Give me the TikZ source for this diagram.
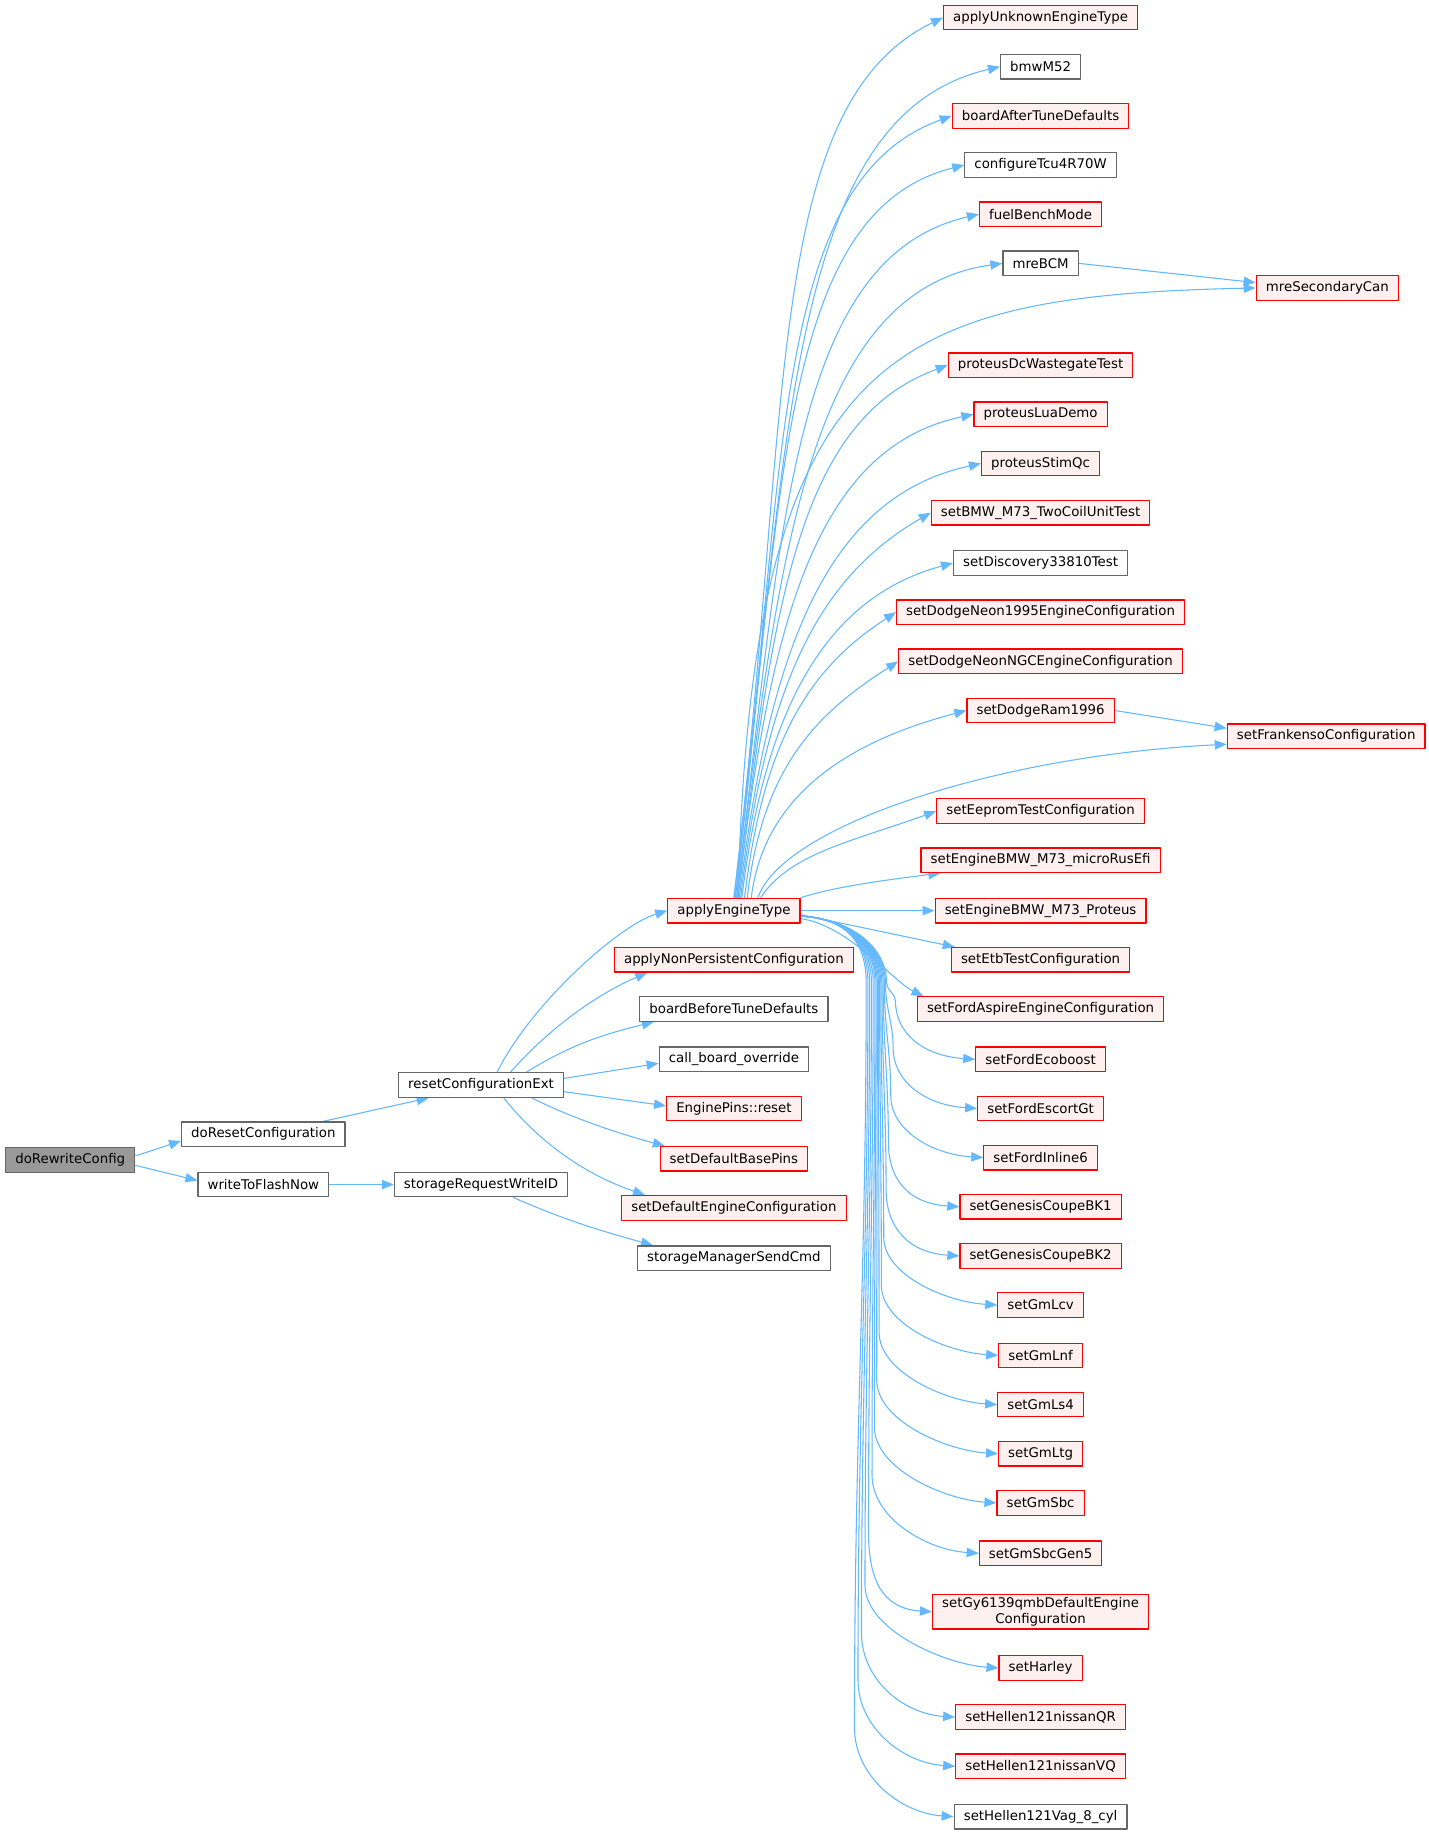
\documentclass[tikz,border=0pt]{standalone}
\usepackage{fontspec}
\setmainfont{DejaVu Sans}
\usetikzlibrary{arrows.meta,calc}
\definecolor{edgeblue}{HTML}{63B8FF}
\definecolor{redfill}{HTML}{FFF0F0}
\definecolor{rootfill}{HTML}{999999}
\definecolor{boxgray}{HTML}{666666}
\pgfdeclarelayer{edges}
\pgfsetlayers{edges,main}
\begin{document}
\begin{tikzpicture}[x=0.878pt, y=-0.878pt, font=\fontsize{10}{12}\selectfont, line join=round,
	fn/.style={draw=boxgray, fill=white, line width=0.9pt, minimum height=18.4pt, inner xsep=7.2pt, inner ysep=2pt},
	fnred/.style={fn, draw=red, fill=redfill},
	fnroot/.style={fn, fill=rootfill},
	call/.style={draw=edgeblue, line width=0.8pt, -{Triangle[length=9pt,width=7pt]}}]
	\useasboundingbox (0,0) rectangle (1220,1566);
	% callers
	\node[fnroot] (rw) at (60,991) {doRewriteConfig};
	\node[fn] (dr) at (225,969) {doResetConfiguration};
	\node[fn] (wf) at (225,1012) {writeToFlashNow};
	\node[fn] (rce) at (411,927) {resetConfigurationExt};
	\node[fn] (srw) at (411,1012) {storageRequestWriteID};
	% middle column
	\node[fnred] (aet) at (627,778) {applyEngineType};
	\node[fnred] (anpc) at (627,820) {applyNonPersistentConfiguration};
	\node[fn] (bbtd) at (627,862) {boardBeforeTuneDefaults};
	\node[fn] (cbo) at (627,905) {call\_board\_override};
	\node[fnred] (epr) at (627,947) {EnginePins::reset};
	\node[fnred] (sdbp) at (627,990) {setDefaultBasePins};
	\node[fnred] (sdec) at (627,1032) {setDefaultEngineConfiguration};
	\node[fn] (smsc) at (627,1075) {storageManagerSendCmd};
	% right column
	\foreach \n/\y/\txt/\st in {
		auet/15/applyUnknownEngineType/fnred, bmw/57/bmwM52/fn,
		batd/99/boardAfterTuneDefaults/fnred, tcu/141/configureTcu4R70W/fn,
		fbm/183/fuelBenchMode/fnred, mbcm/225/mreBCM/fn,
		pdw/312/proteusDcWastegateTest/fnred, plua/354/proteusLuaDemo/fnred,
		pstim/396/proteusStimQc/fnred, bmwtc/438/setBMW\_M73\_TwoCoilUnitTest/fnred,
		disc/481/setDiscovery33810Test/fn, dn95/523/setDodgeNeon1995EngineConfiguration/fnred,
		dngc/565/setDodgeNeonNGCEngineConfiguration/fnred, dram/607/setDodgeRam1996/fnred,
		eep/693/setEepromTestConfiguration/fnred, micro/735/setEngineBMW\_M73\_microRusEfi/fnred,
		bmwp/778/setEngineBMW\_M73\_Proteus/fnred, etb/820/setEtbTestConfiguration/fnred,
		fa/862/setFordAspireEngineConfiguration/fnred, fe/905/setFordEcoboost/fnred,
		feg/947/setFordEscortGt/fnred, fi6/989/setFordInline6/fnred,
		g1/1031/setGenesisCoupeBK1/fnred, g2/1073/setGenesisCoupeBK2/fnred,
		lcv/1115/setGmLcv/fnred, lnf/1158/setGmLnf/fnred,
		ls4/1200/setGmLs4/fnred, ltg/1242/setGmLtg/fnred,
		sbc/1284/setGmSbc/fnred, sbc5/1327/setGmSbcGen5/fnred,
		harley/1425/setHarley/fnred, hqr/1467/setHellen121nissanQR/fnred,
		hvq/1509/setHellen121nissanVQ/fnred, vag/1552/setHellen121Vag\_8\_cyl/fn}
		\node[\st] (\n) at (889,\y) {\txt};
	\node[fnred, align=center] (gy) at (889,1377) {setGy6139qmbDefaultEngine\\Configuration};
	% far column
	\node[fnred] (msc) at (1134,246) {mreSecondaryCan};
	\node[fnred] (sfc) at (1133,629) {setFrankensoConfiguration};
	\coordinate (fan) at (750,840);
	
	\begin{pgfonlayer}{edges}
	\fill[white] (0,0) rectangle (1220,1566);
	% calls from the left part
	\draw[call] ([yshift=3pt]rw.east) -- ([yshift=-5pt]dr.west);
	\draw[call] ([yshift=-4pt]rw.east) -- ([yshift=3pt]wf.west);
	\draw[call] ([xshift=-17pt]dr.north east) -- ([xshift=23pt]rce.south west);
	\draw[call] (wf) -- (srw);
	\draw[call] ([xshift=24pt]srw.south) .. controls +(50,22) and +(-35,-10) .. ([xshift=12pt]smsc.north west);
	\draw[call] ([xshift=12pt]rce.north) .. controls +(30,-60) and +(-40,12) .. (aet.west);
	\draw[call] ([xshift=22pt]rce.north) .. controls +(40,-45) and +(-35,15) .. ([xshift=25pt]anpc.south west);
	\draw[call] ([xshift=34pt]rce.north) .. controls +(40,-25) and +(-40,10) .. ([xshift=11pt]bbtd.south west);
	\draw[call] ([yshift=5pt]rce.east) -- ([yshift=-3pt]cbo.west);
	\draw[call] ([yshift=-5pt]rce.east) -- ([yshift=2pt]epr.west);
	\draw[call] ([xshift=38pt]rce.south) .. controls +(40,20) and +(-30,-8) .. ([xshift=4pt]sdbp.north west);
	\draw[call] ([xshift=17pt]rce.south) .. controls +(40,50) and +(-35,-12) .. ([xshift=18pt]sdec.north west);
	
	% applyEngineType upwards
	\foreach \t/\s/\ax/\ay/\bx/\by in {auet/0/50/414/154/75, bmw/0/47/391/182/42, batd/1/44/368/155/56,
		tcu/1/41/345/159/40, fbm/2/39/322/159/37, mbcm/2/36/299/164/23, pdw/3/30/251/128/47,
		plua/3/27/228/138/29, pstim/4/25/205/135/29, bmwtc/5/22/182/97/56, disc/6/19/158/111/30,
		dn95/8/16/135/74/48, dngc/10/13/112/70/45, dram/13/11/89/99/26, eep/20/25/38/72/26}
		\draw[call] ([xshift=\s pt]aet.north) .. controls +(\ax,-\ay) and +(-\bx,\by) .. (\t.west);
	\draw[call] ([xshift=3pt]aet.north) .. controls +(12,-468) and +(-313,7) .. (msc.west);
	\draw[call] ([xshift=18pt]aet.north) .. controls +(20,-60) and +(-200,10) .. ([yshift=-6pt]sfc.west);
	\draw[call] (aet.north east) .. controls +(30,-10) and +(-40,5) .. ([xshift=15pt]micro.south west);
	\draw[call] (aet.east) -- (bmwp.west);
	\draw[call] ([yshift=-3pt]aet.east) -- ([xshift=3pt]etb.north west);
	\draw[call] ([yshift=-6pt]aet.east) .. controls +(40,5) and +(-25,-12) .. ([xshift=5pt]fa.north west);
	
	% applyEngineType downwards
	\foreach \t/\dx/\k/\c in {fe/15/50/6, feg/13/52/22, fi6/11/53/38, g1/9/55/54, g2/7/57/70,
		lcv/5/58/87, lnf/3/60/103, ls4/1/62/119, ltg/-1/63/136, sbc/-3/65/152, sbc5/-5/67/168,
		gy/-8/69/187, harley/-11/71/206, hqr/-14/72/222, hvq/-17/74/238, vag/-20/76/254}
		\draw[call] ([yshift=-4pt]aet.east) .. controls +(45,3) and +(0,-30) .. ($(fan)+(0.5*\dx,0)$)
			.. controls +(0,\c) and +(0,-\c) .. ($(\t.west -| fan)+(\dx,-\k)$)
			.. controls +(0,0.55*\k) and +(-45,-3) .. (\t.west);
	
	% second level
	\draw[call] (mbcm.east) -- ([yshift=4pt]msc.west);
	\draw[call] (dram.east) -- ([yshift=6pt]sfc.west);
	\end{pgfonlayer}
\end{tikzpicture}
\end{document}
